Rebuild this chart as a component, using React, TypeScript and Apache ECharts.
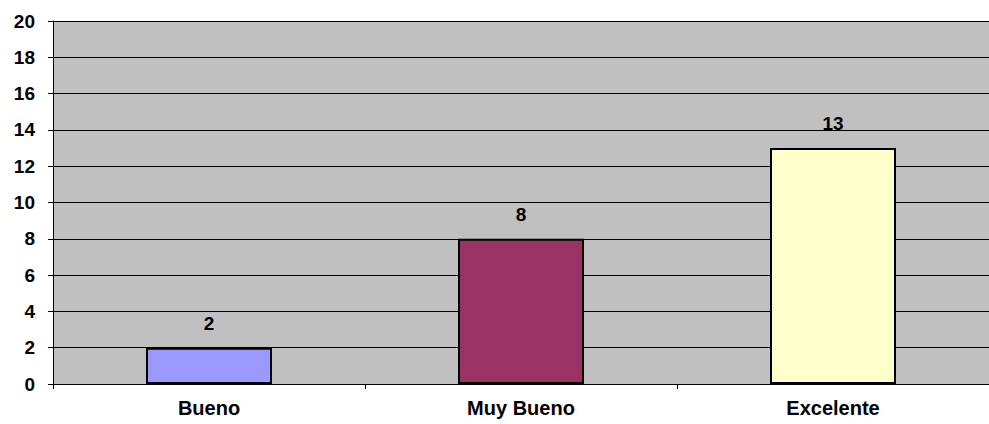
import React, { useEffect, useRef } from "react";
import * as echarts from "echarts";

const categories = ["Bueno", "Muy Bueno", "Excelente"];
const values = [2, 8, 13];
const barColors = ["#9999FF", "#993366", "#FFFFCC"];

const FONT = "'Liberation Sans', Arial, sans-serif";
const FONT_SIZE = 19;

export default function App() {
  const ref = useRef<HTMLDivElement>(null);

  useEffect(() => {
    if (!ref.current) return;
    const chart = echarts.init(ref.current, undefined, { renderer: "svg" });
    chart.setOption({
      animation: false,
      grid: {
        left: 53,
        right: 0,
        top: 21,
        bottom: 40,
        show: true,
        backgroundColor: "#C0C0C0",
        borderWidth: 0,
      },
      xAxis: {
        type: "category",
        data: categories,
        axisLine: { lineStyle: { color: "#000", width: 1 } },
        axisTick: { show: true, alignWithLabel: false, length: 5, lineStyle: { color: "#000" } },
        axisLabel: {
          color: "#000",
          fontFamily: FONT,
          fontWeight: "bold",
          fontSize: 20,
          margin: 14,
        },
      },
      yAxis: {
        type: "value",
        min: 0,
        max: 20,
        interval: 2,
        axisLine: { show: true, lineStyle: { color: "#000", width: 1 } },
        axisTick: { show: true, length: 5, lineStyle: { color: "#000" } },
        axisLabel: {
          color: "#000",
          fontFamily: FONT,
          fontWeight: "bold",
          fontSize: FONT_SIZE,
          margin: 18,
        },
        splitLine: { show: true, lineStyle: { color: "#000", width: 1 } },
      },
      series: [
        {
          type: "bar",
          data: values.map((v, i) => ({
            value: v,
            itemStyle: { color: barColors[i] },
          })),
          barWidth: 126,
          itemStyle: { borderColor: "#000", borderWidth: 2 },
          label: {
            show: true,
            position: "top",
            distance: 15,
            color: "#000",
            fontFamily: FONT,
            fontWeight: "bold",
            fontSize: FONT_SIZE,
          },
        },
      ],
    });
    return () => chart.dispose();
  }, []);

  return (
    <div
      ref={ref}
      style={{ position: "fixed", left: 0, top: 0, width: 989, height: 424, background: "#fff" }}
    />
  );
}
